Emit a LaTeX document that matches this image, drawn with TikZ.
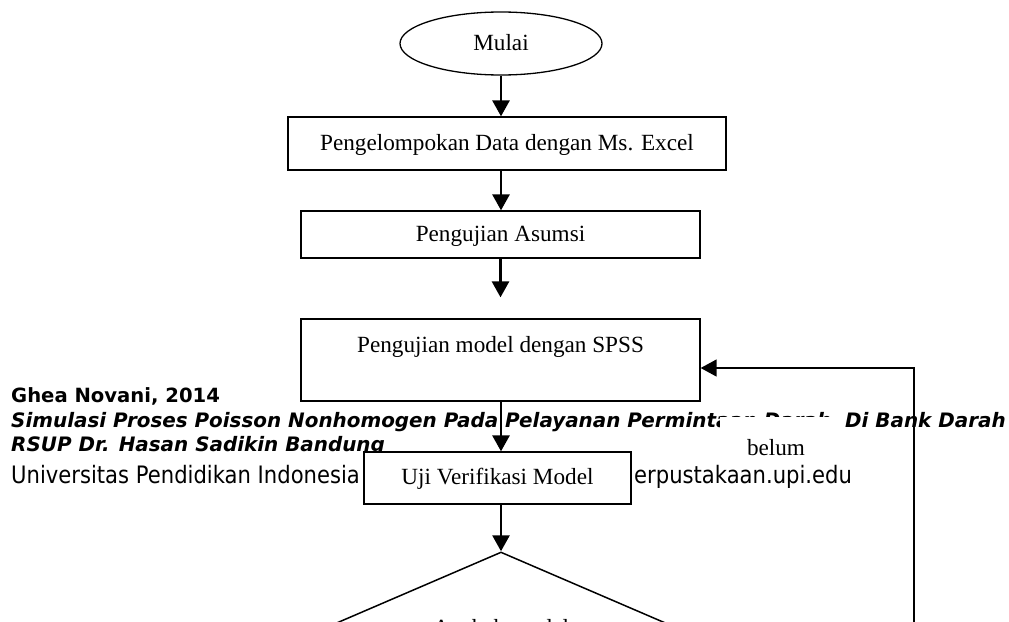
\documentclass[tikz,border=0pt]{standalone}
\usepackage{fontspec}
\setmainfont{Liberation Serif}
\newfontfamily\footreg[FakeStretch=0.88]{DejaVu Sans}
\newfontfamily\footbold{DejaVu Sans}
\usetikzlibrary{shapes.geometric,arrows.meta}
\begin{document}
\begin{tikzpicture}[x=1pt,y=-1pt,
  diafont/.style={font=\fontsize{23.2}{27}\selectfont},
  box/.style={draw, line width=1.3pt, fill=white, inner sep=0pt, diafont, text height=17pt, text depth=4pt},
  arr/.style={line width=2.8pt, -{Triangle[length=16pt,width=17pt]}},
  fbline/.style={line width=1.5pt, -{Triangle[length=16pt,width=17pt]}},
  footline/.style={anchor=base west, inner sep=0pt},
  fb/.style={font=\footbold\bfseries\fontsize{19.6}{23}\selectfont},
  fbi/.style={font=\footbold\bfseries\itshape\fontsize{19.9}{23}\selectfont},
  fr/.style={font=\footreg\fontsize{24}{28}\selectfont}]
\useasboundingbox (0,0) rectangle (1009,621);
\fill[white] (0,0) rectangle (1009,621);
% footer text (page watermark behind the chart)
\node[footline, fb] (f1) at (11,402) {Ghea Novani, 2014};
\node[footline, fbi] (f2) at (11,427) {Simulasi Proses Poisson Nonhomogen Pada Pelayanan Permintaan Darah\ \ Di Bank Darah};
\node[footline, fbi] (f3) at (11,451) {RSUP Dr. Hasan Sadikin Bandung};
\node[footline, fr] (f4) at (11,483) {Universitas Pendidikan Indonesia};
\node[footline, fr] (f5) at (634,483) {erpustakaan.upi.edu};
% chart
\node[box, ellipse, minimum width=202pt, minimum height=63pt] (mulai) at (501,43.5) {Mulai};
\node[box, minimum width=438pt, minimum height=53pt] (excel) at (507,143.5) {Pengelompokan Data dengan Ms. Excel};
\node[box, minimum width=399pt, minimum height=47pt] (asumsi) at (500.5,234.5) {Pengujian Asumsi};
\node[box, minimum width=399pt, minimum height=82pt, text height=9pt, text depth=24pt] (spss) at (500.5,360) {Pengujian model dengan SPSS};
\node[box, minimum width=267pt, minimum height=52pt] (uji) at (497.5,478) {Uji Verifikasi Model};
\node[box, diamond, line width=1.5pt, minimum width=520pt, minimum height=224pt, text height=0pt, text depth=58pt] (dec) at (501,664) {Apakah model};
\node[fill=white, inner sep=0pt, minimum width=122pt, minimum height=43pt, diafont, text height=35pt, text depth=2pt] (belum) at (781,438.5) {\hspace*{-10pt}belum};
\coordinate (turn) at (914,368);
% connectors
\draw[arr] (mulai) -- (mulai.south |- excel.north);
\draw[arr] (mulai.south |- excel.south) -- (mulai.south |- asumsi.north);
\draw[arr, shorten >=21pt] (asumsi) -- (spss);
\draw[arr] (mulai.south |- spss.south) -- (mulai.south |- uji.north);
\draw[arr] (mulai.south |- uji.south) -- (dec.north);
\draw[fbline] (dec.east) -- (dec.east -| turn) -- (turn) -- (spss.east |- turn);
\end{tikzpicture}
\end{document}
